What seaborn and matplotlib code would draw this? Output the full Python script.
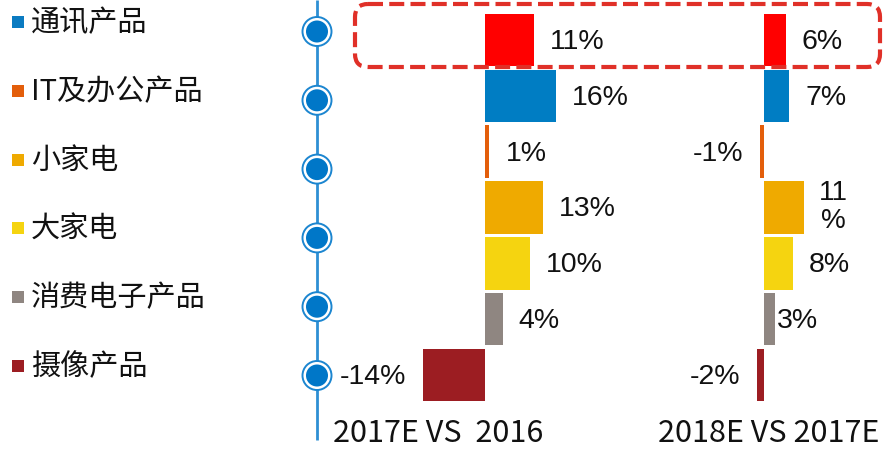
import matplotlib
matplotlib.use("Agg")
import matplotlib.pyplot as plt
from matplotlib.patches import FancyBboxPatch, Circle, Rectangle
import seaborn as sns
import pandas as pd

# ---------------- data ----------------
legend_labels = ["通讯产品", "IT及办公产品", "小家电", "大家电", "消费电子产品", "摄像产品"]
legend_colors = ["#0B7BC1", "#E35E0B", "#EFAA00", "#F5D410", "#8F8681", "#9C1D22"]

bar_categories = ["整体", "通讯产品", "IT及办公产品", "小家电", "大家电", "消费电子产品", "摄像产品"]
bar_colors = ["#FF0000", "#007DC3", "#E35E0B", "#EFAA00", "#F5D410", "#8F8681", "#9C1D22"]
growth_2017 = [11, 16, 1, 13, 10, 4, -14]
growth_2018 = [6, 7, -1, 11, 8, 3, -2]
labels_2017 = ["11%", "16%", "1%", "13%", "10%", "4%", "-14%"]
labels_2018 = ["6%", "7%", "-1%", "11\n%", "8%", "3%", "-2%"]
group_titles = ["2017E VS  2016", "2018E VS 2017E"]

# ---------------- figure ----------------
sns.set_theme(style="white")
plt.rcParams["font.family"] = ["Noto Sans CJK SC", "DejaVu Sans"]

W, H = 883, 450
fig = plt.figure(figsize=(W / 100, H / 100), dpi=100)

def px_axes(x0, x1, y0, y1, **kw):
    return fig.add_axes([x0 / W, 1 - y1 / H, (x1 - x0) / W, (y1 - y0) / H], **kw)

# bar panels (zero at x=485 and x=764, pixel scales ~4.45 and ~3.6 px per %)
panel_specs = [
    (growth_2017, labels_2017, 485, 4.45, -20, 20),
    (growth_2018, labels_2018, 764, 3.6, -20, 20),
]
num_font = ["Liberation Sans", "DejaVu Sans"]
for vals, labs, zero_px, scale, lo, hi in panel_specs:
    ax = px_axes(zero_px + lo * scale, zero_px + hi * scale, 12, 403)
    df = pd.DataFrame({"cat": bar_categories, "val": vals})
    sns.barplot(data=df, x="val", y="cat", hue="cat", palette=bar_colors,
                legend=False, orient="h", width=0.94, saturation=1,
                edgecolor="none", linewidth=0, ax=ax)
    ax.set_xlim(lo, hi)
    ax.set_ylim(len(vals) - 0.5, -0.5)
    ax.axis("off")
    for i, (v, t) in enumerate(zip(vals, labs)):
        if "\n" in t:
            ax.annotate(t, (v, i), xytext=(30, 0), textcoords="offset pixels",
                        ha="center", va="center", fontsize=20, family=num_font,
                        linespacing=1.1, color="#111111", annotation_clip=False)
        elif v >= 0:
            off = 2 if (v == 3 and scale < 4) else 16
            ax.annotate(t, (v, i), xytext=(off, -2), textcoords="offset pixels",
                        ha="left", va="center", fontsize=20.5, family=num_font,
                        color="#111111", annotation_clip=False)
        else:
            ax.annotate(t, (v, i), xytext=(-17, -2), textcoords="offset pixels",
                        ha="right", va="center", fontsize=20.5, family=num_font,
                        color="#111111", annotation_clip=False)

# overlay in pixel coordinates
ov = fig.add_axes([0, 0, 1, 1], zorder=5)
ov.set_xlim(0, W)
ov.set_ylim(H, 0)
ov.axis("off")
ov.patch.set_alpha(0)

# timeline
ov.plot([317, 317], [0, 440], color="#2E8FD4", lw=2, solid_capstyle="butt", zorder=1)
row_y0, row_step = 23, 68.8
for i, (lab, col) in enumerate(zip(legend_labels, legend_colors)):
    y = row_y0 + i * row_step
    ov.add_patch(Rectangle((12, y - 7), 12, 12, color=col, lw=0))
    ov.text(31, y, lab, fontsize=21, va="center", ha="left", color="#111111")
    cy = y + 8.5
    ov.add_patch(Circle((317, cy), 14.5, facecolor="white", edgecolor="#1C86D0", lw=1.4, zorder=3))
    ov.add_patch(Circle((317, cy), 11, facecolor="#0077C8", edgecolor="none", zorder=4))

# highlight box
box = FancyBboxPatch((355, 4), 525, 63,
                     boxstyle="round,pad=0,rounding_size=13",
                     fill=False, edgecolor="#E03028", lw=3,
                     linestyle=(0, (3.6, 1.5)), zorder=6)
ov.add_patch(box)

# group titles
ov.text(438, 433, group_titles[0], fontsize=22, ha="center", va="center", color="#111111")
ov.text(769, 433, group_titles[1], fontsize=22, ha="center", va="center", color="#111111")

fig.savefig("out.png", dpi=100)
